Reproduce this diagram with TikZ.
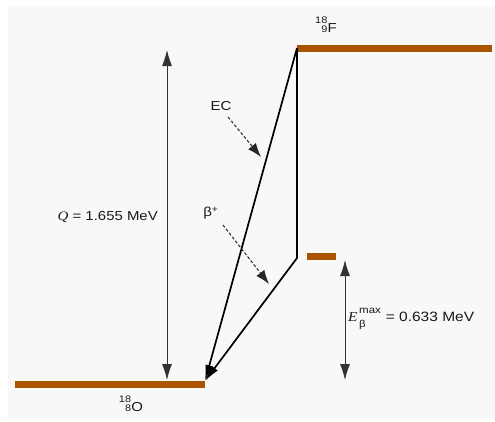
\documentclass[tikz,border=0pt]{standalone}
\usepackage{fontspec}
\setmainfont{Liberation Sans}[FakeStretch=1.15]
\newfontfamily\serfam{Liberation Serif}[FakeStretch=1.15]
\usetikzlibrary{arrows.meta}
\definecolor{level}{RGB}{170,84,0}
\definecolor{bg}{RGB}{248,248,248}
\newcommand\nucl[3]{{\fontsize{9.5}{9.5}\selectfont\shortstack[r]{#1\\[-1pt]#2}}\kern0.3pt#3}
\begin{document}
\begin{tikzpicture}[x=1pt,y=-1pt,
  levelbar/.style={draw=level,line width=7pt},
  trans/.style={draw=black,line width=1.7pt,line join=miter},
  tarrow/.style={trans,-{Latex[length=16pt,width=8pt]}},
  dim/.style={draw=black!80,line width=0.9pt,{Latex[length=16pt,width=10pt]}-{Latex[length=16pt,width=10pt]}},
  hint/.style={draw=black!85,line width=1pt,dash pattern=on 3pt off 2pt,-{Latex[length=14pt,width=10pt]}},
  lbl/.style={font=\fontsize{13}{15}\selectfont,text=black!90,inner sep=0pt}]
\useasboundingbox (0,0) rectangle (495,421);
\fill[bg] (8,6) rectangle (495,418);
% level coordinates
\coordinate (Fl) at (297,48);
\coordinate (Fr) at (492,48);
\coordinate (Ol) at (15,384);
\coordinate (Or) at (205,384);
\coordinate (Ml) at (307,256);
\coordinate (Mr) at (336,256);
\coordinate (K) at (297,258);
\coordinate (T) at (205,381);
\coordinate (Qt) at (167,50);
\coordinate (Qb) at (167,380);
\coordinate (Et) at (345,260);
\coordinate (Eb) at (345,380);
\coordinate (ECs) at (228,117);
\coordinate (ECe) at (261,157);
\coordinate (Bs) at (223,225);
\coordinate (Be) at (269,284);
% levels
\draw[levelbar] (Fl) -- (Fr);
\draw[levelbar] (Ol) -- (Or);
\draw[levelbar] (Ml) -- (Mr);
% transitions
\draw[tarrow] (Fl) -- (T);
\draw[tarrow] (Fl) -- (K) -- (T);
% dimension arrows
\draw[dim] (Qt) -- (Qb);
\draw[dim] (Et) -- (Eb);
% hint arrows
\draw[hint] (ECs) -- (ECe);
\draw[hint] (Bs) -- (Be);
% labels
\node[lbl] (lF) at (326,25) {\nucl{18}{9}{F}};
\node[lbl] (lO) at (131,404) {\nucl{18}{8}{O}};
\node[lbl] (lEC) at (221,106) {EC};
\node[lbl] (lB) at (211,213) {β\textsuperscript{+}};
\node[lbl,anchor=east] (lQ) at (158,217) {{\serfam\itshape Q} = 1.655 MeV};
\node[lbl,anchor=west,font=\fontsize{13.5}{15}\selectfont] (lE) at (348,319) {{\serfam\itshape E}\kern1.5pt\makebox[0pt][l]{\raisebox{1.1ex}{\fontsize{10}{10}\selectfont max}}\raisebox{-0.9ex}{\fontsize{10}{10}\selectfont β}\hphantom{\fontsize{10}{10}\selectfont ma}\kern4pt{}= 0.633 MeV};
\end{tikzpicture}
\end{document}
